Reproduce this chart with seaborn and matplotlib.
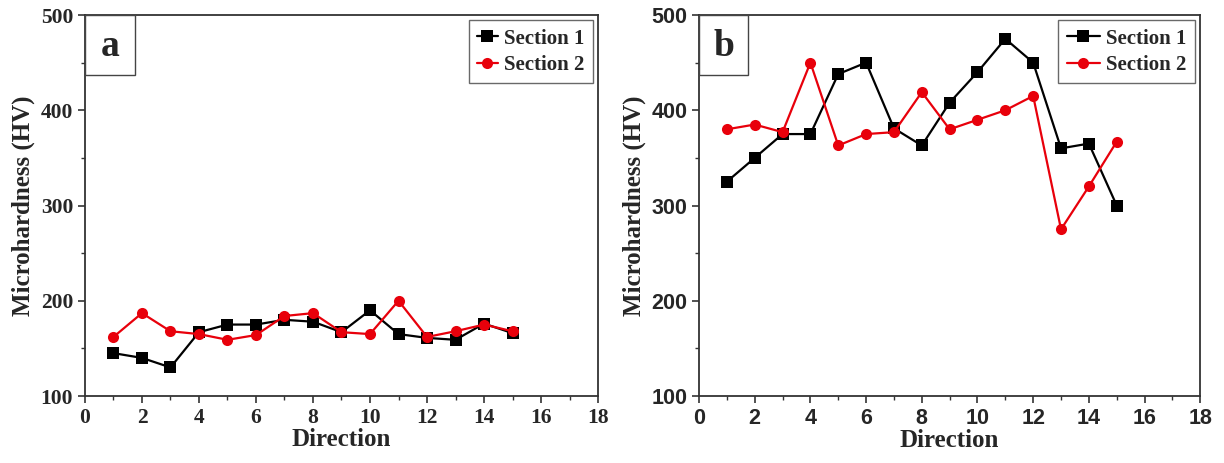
import matplotlib
matplotlib.use("Agg")
import matplotlib.pyplot as plt
import seaborn as sns
import pandas as pd
from matplotlib.ticker import MultipleLocator
from matplotlib.patches import Rectangle

direction = list(range(1, 16))

# panel a
a_section1 = [145, 140, 130, 167, 175, 175, 180, 178, 167, 190, 165, 161, 159, 176, 166]
a_section2 = [162, 187, 168, 165, 159, 164, 184, 187, 167, 165, 200, 162, 168, 175, 168]

# panel b
b_section1 = [325, 350, 375, 375, 438, 450, 381, 363, 408, 440, 475, 450, 360, 365, 300]
b_section2 = [380, 385, 377, 450, 363, 375, 377, 419, 380, 390, 400, 415, 275, 320, 367]

series_names = ["Section 1", "Section 2"]
panel_labels = ["a", "b"]
x_ticks = list(range(0, 19, 2))
y_ticks = [100, 200, 300, 400, 500]

sns.set_theme(style="ticks")
plt.rcParams["font.family"] = ["Liberation Serif", "DejaVu Serif"]

fig = plt.figure(figsize=(12.24, 4.63), dpi=100)
ax_a = fig.add_axes([0.0694, 0.1447, 0.4192, 0.8229])
ax_b = fig.add_axes([0.5711, 0.1447, 0.4095, 0.8229])


def make_df(s1, s2):
    return pd.DataFrame({
        "Direction": direction * 2,
        "Microhardness": s1 + s2,
        "Series": [series_names[0]] * len(s1) + [series_names[1]] * len(s2),
    })


def draw_panel(ax, df, label, tick_font, handle_len):
    sns.lineplot(data=df, x="Direction", y="Microhardness", hue="Series",
                 style="Series", markers={"Section 1": "s", "Section 2": "o"},
                 dashes=False, palette={"Section 1": "black", "Section 2": "#e8000b"},
                 markersize=8, linewidth=1.6, markeredgewidth=0, ax=ax)
    ax.set_xlim(0, 18)
    ax.set_ylim(100, 500)
    ax.set_xticks(x_ticks)
    ax.set_yticks(y_ticks)
    ax.xaxis.set_minor_locator(MultipleLocator(1))
    ax.yaxis.set_minor_locator(MultipleLocator(50))
    ax.tick_params(which="major", direction="out", length=5, width=1.2, color="#333333")
    ax.tick_params(which="minor", direction="out", length=3, width=1.0, color="#333333")
    for sp in ax.spines.values():
        sp.set_linewidth(1.3)
        sp.set_color("#333333")
    for t in ax.get_xticklabels() + ax.get_yticklabels():
        t.set_fontfamily(tick_font)
        t.set_fontweight("bold")
        t.set_fontsize(15.5)
    ax.set_xlabel("Direction", fontsize=18, fontweight="bold", labelpad=0)
    ax.set_ylabel("Microhardness (HV)", fontsize=18, fontweight="bold", labelpad=4)
    leg = ax.legend(loc="upper right", frameon=True, fancybox=False,
                    handlelength=handle_len, borderpad=0.4, labelspacing=0.3,
                    handletextpad=0.3, borderaxespad=0.25,
                    prop={"weight": "bold", "size": 15})
    leg.get_frame().set_edgecolor("#444444")
    leg.get_frame().set_linewidth(1.0)
    # label box sitting in the top-left corner
    bw, bh = 0.098, 0.157
    ax.add_patch(Rectangle((0, 1 - bh), bw, bh, transform=ax.transAxes,
                           fc="white", ec="#444444", lw=1.0, zorder=5))
    ax.text(bw / 2, 1 - bh / 2 - 0.005, label, transform=ax.transAxes, fontsize=27,
            fontweight="bold", ha="center", va="center", zorder=6)


draw_panel(ax_a, make_df(a_section1, a_section2), panel_labels[0],
           ["Liberation Serif", "DejaVu Serif"], 1.0)
draw_panel(ax_b, make_df(b_section1, b_section2), panel_labels[1],
           ["Liberation Sans", "DejaVu Sans"], 1.6)

fig.savefig("out.png", dpi=100)
